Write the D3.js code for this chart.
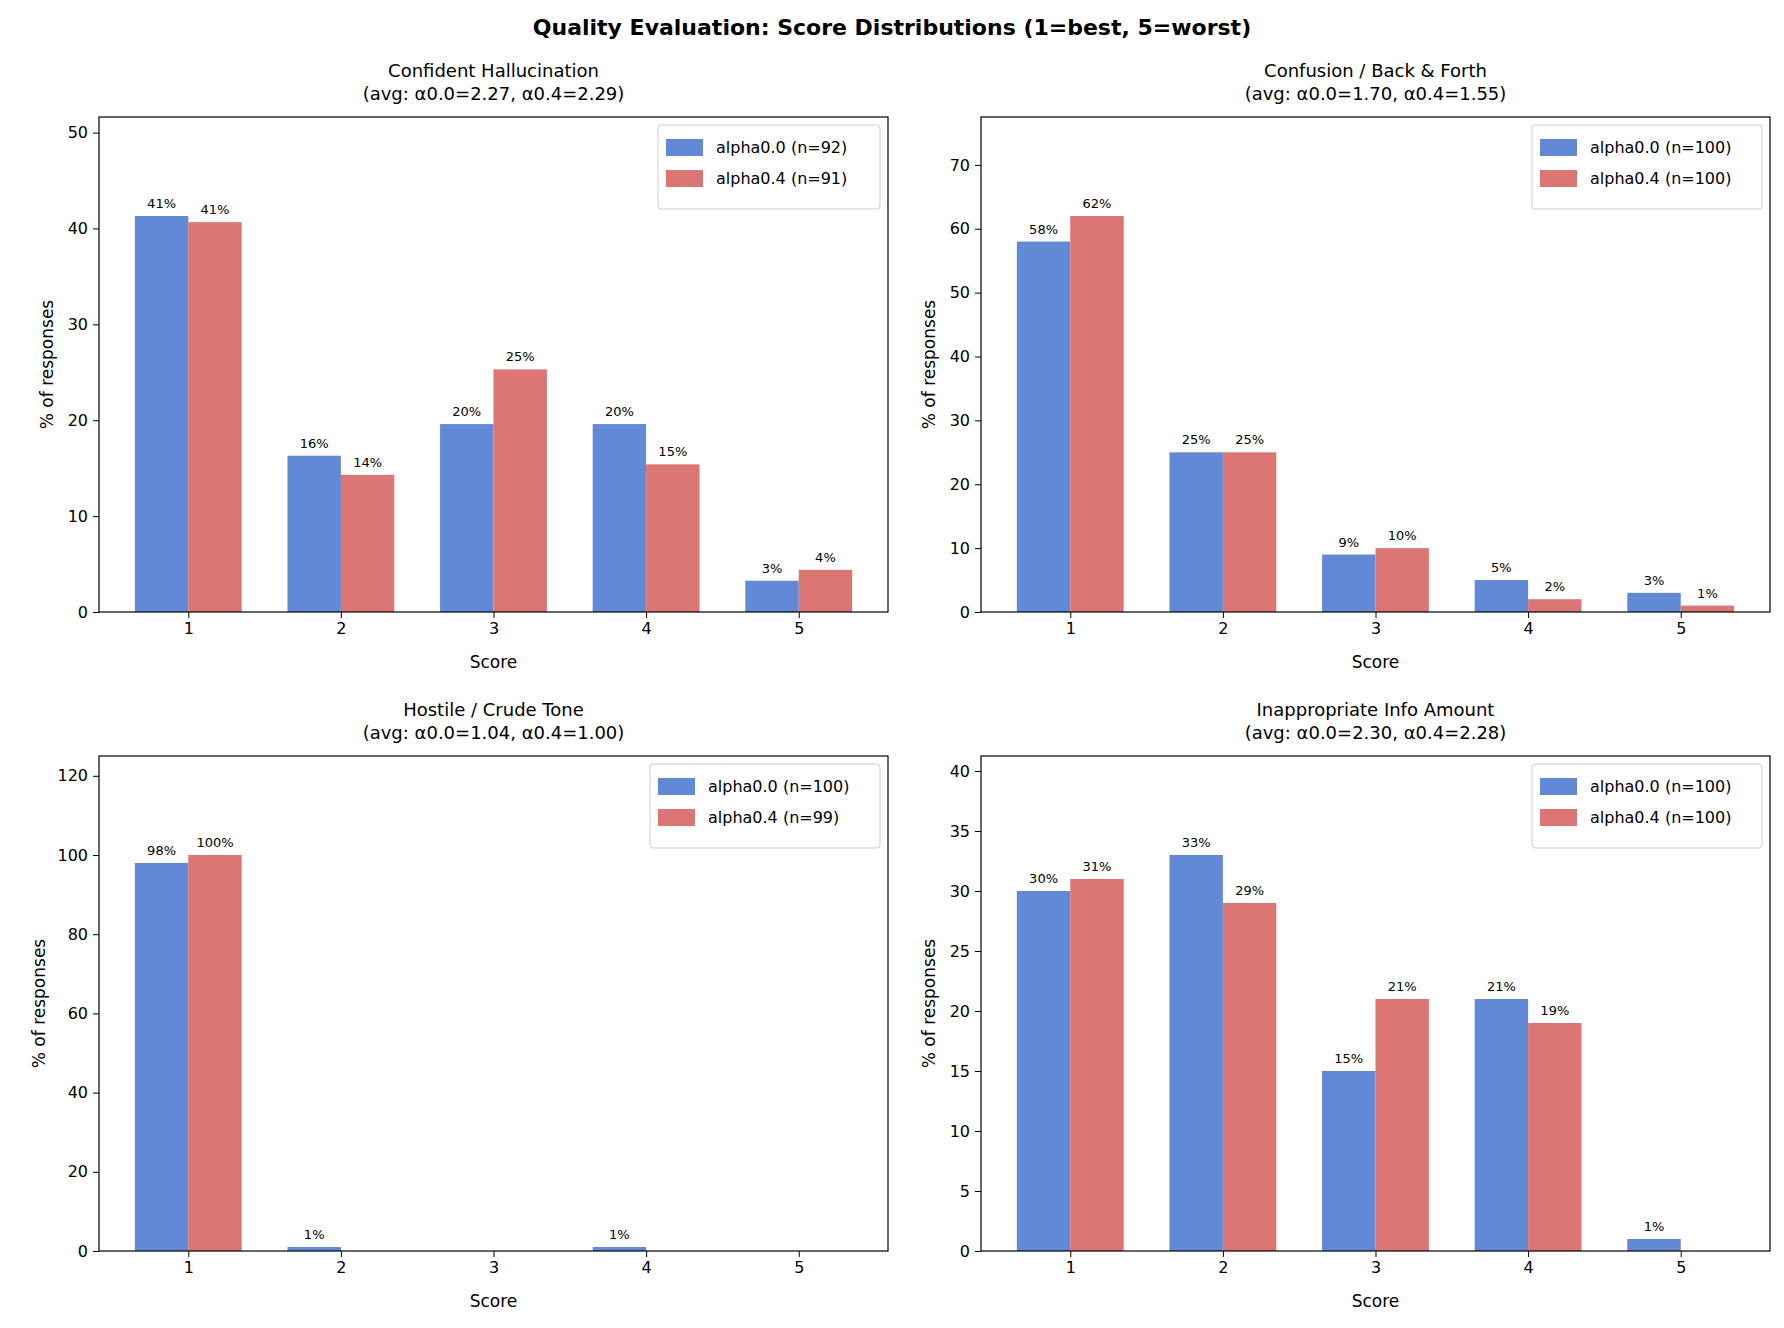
<!DOCTYPE html>
<html><head><meta charset="utf-8">
<script src="https://cdn.jsdelivr.net/npm/d3@7"></script>
<style>body{margin:0;background:#fff}text{font-family:"DejaVu Sans",sans-serif}</style>
</head><body><svg id="fig" width="1784" height="1328"></svg>
<script>
const scores = [1, 2, 3, 4, 5];
const titles = ["Confident Hallucination", "Confusion / Back & Forth", "Hostile / Crude Tone", "Inappropriate Info Amount"];
const avgs = [["2.27", "2.29"], ["1.70", "1.55"], ["1.04", "1.00"], ["2.30", "2.28"]];
const nA = [92, 100, 100, 100];
const nB = [91, 100, 99, 100];
const pctA = [[41.3, 16.3, 19.6, 19.6, 3.26], [58, 25, 9, 5, 3], [98, 1, 0, 1, 0], [30, 33, 15, 21, 1]];
const pctB = [[40.66, 14.3, 25.3, 15.4, 4.4], [62, 25, 10, 2, 1], [100, 0, 0, 0, 0], [31, 29, 21, 19, 0]];
const yTicks = [[0, 10, 20, 30, 40, 50], [0, 10, 20, 30, 40, 50, 60, 70], [0, 20, 40, 60, 80, 100, 120], [0, 5, 10, 15, 20, 25, 30, 35, 40]];
const blue = "#6189d6", red = "#db7674";

const svg = d3.select("#fig");
svg.append("text").attr("x", 892).attr("y", 35).attr("text-anchor", "middle")
  .attr("font-size", 22).attr("font-weight", "bold")
  .text("Quality Evaluation: Score Distributions (1=best, 5=worst)");

const boxes = [[99, 117], [981, 117], [99, 756], [981, 756]];
const W = 789, H = 495, bw = 0.35;

boxes.forEach(([x0, y0], k) => {
  const g = svg.append("g").attr("transform", `translate(${x0},${y0})`);
  const ymax = Math.max(d3.max(pctA[k]), d3.max(pctB[k])) * 1.25;
  const x = d3.scaleLinear().domain([0.415, 5.585]).range([0, W]);
  const y = d3.scaleLinear().domain([0, ymax]).range([H, 0]);

  [[pctA[k], -bw / 2, blue], [pctB[k], bw / 2, red]].forEach(([vals, off, col]) => {
    vals.forEach((v, i) => {
      const cx = scores[i] + off;
      g.append("rect").attr("x", x(cx - bw / 2)).attr("width", x(cx + bw / 2) - x(cx - bw / 2))
        .attr("y", y(v)).attr("height", H - y(v)).attr("fill", col);
      if (v > 0)
        g.append("text").attr("x", x(cx)).attr("y", y(v) - 8).attr("text-anchor", "middle")
          .attr("font-size", 13).text(Math.round(v) + "%");
    });
  });

  const xa = g.append("g").attr("transform", `translate(0,${H})`)
    .call(d3.axisBottom(x).tickValues(scores).tickFormat(d3.format("d")).tickSize(6).tickPadding(5));
  const ya = g.append("g").call(d3.axisLeft(y).tickValues(yTicks[k]).tickSize(6).tickPadding(5));
  [xa, ya].forEach(a => { a.selectAll("text").attr("font-size", 16).attr("fill", "#000"); a.select(".domain").remove(); a.selectAll("line").attr("stroke", "#000"); });
  g.append("rect").attr("width", W).attr("height", H).attr("fill", "none").attr("stroke", "#000").attr("stroke-width", 1.2);

  g.append("text").attr("x", W / 2).attr("y", -40).attr("text-anchor", "middle").attr("font-size", 18).text(titles[k]);
  g.append("text").attr("x", W / 2).attr("y", -17).attr("text-anchor", "middle").attr("font-size", 18)
    .text(`(avg: α0.0=${avgs[k][0]}, α0.4=${avgs[k][1]})`);
  g.append("text").attr("x", W / 2).attr("y", H + 56).attr("text-anchor", "middle").attr("font-size", 17).text("Score");
  g.append("text").attr("transform", `translate(${k === 2 ? -54 : -46},${H / 2}) rotate(-90)`)
    .attr("text-anchor", "middle").attr("font-size", 17).text("% of responses");

  const lw = k === 0 ? 222 : 230;
  const lg = g.append("g").attr("transform", `translate(${W - lw - 8},8)`);
  lg.append("rect").attr("width", lw).attr("height", 84).attr("rx", 3).attr("fill", "#fff").attr("stroke", "#ccc");
  [[`alpha0.0 (n=${nA[k]})`, blue], [`alpha0.4 (n=${nB[k]})`, red]].forEach(([t, c], i) => {
    lg.append("rect").attr("x", 8).attr("y", 14 + i * 31).attr("width", 37).attr("height", 17).attr("fill", c);
    lg.append("text").attr("x", 58).attr("y", 28 + i * 31).attr("font-size", 16).text(t);
  });
});
</script></body></html>
